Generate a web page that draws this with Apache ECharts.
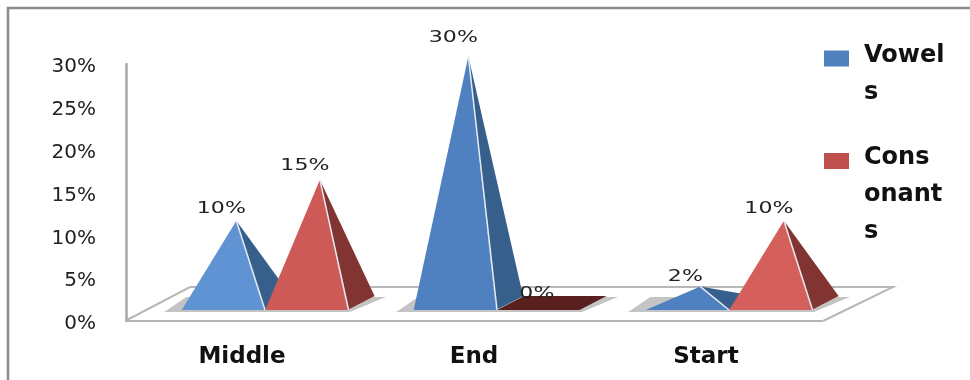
<!DOCTYPE html>
<html>
<head>
<meta charset="utf-8">
<style>html,body{margin:0;padding:0;background:#fff}#chart{width:970px;height:380px}</style>
<script src="https://cdn.jsdelivr.net/npm/echarts@6/dist/echarts.min.js"></script>
</head>
<body>
<div id="chart"></div>
<script>
const categories = ['Middle', 'End', 'Start'];
const vowels = [10, 30, 2];
const consonants = [15, 0, 10];
const legendVowels = 'Vowels';
const legendConsonants = 'Consonants';

const FONT = '"DejaVu Sans", sans-serif';
const FLOOR_LIFT = 11;      // front edge of the pyramids above the front of the floor
const APEX_LIFT = 18;       // where the apex of a zero-height pyramid would sit
const DEPTH_X = 27, DEPTH_Y = 14;
const PERSPECTIVE = 0.96;   // vertical foreshortening of the 3D view

const chart = echarts.init(document.getElementById('chart'));

// One pyramid: a front face and a darker right face, or a flat base at zero.
function pyramid(front, side, flat, offsetRatio) {
  return function (params, api) {
    const i = api.value(0), v = api.value(1);
    const zero = api.coord([i, 0]);
    const top = api.coord([i, v]);
    const band = api.size([1, 0])[0];
    const w = band * 0.355;
    const x0 = zero[0] + band * offsetRatio;
    const x1 = x0 + w;
    const y = zero[1] - FLOOR_LIFT;
    const apexX = (x0 + x1) / 2 + DEPTH_X / 2;
    const apexY = zero[1] - APEX_LIFT - (zero[1] - top[1]) * PERSPECTIVE;
    const children = [];
    if (v === 0) {
      children.push({
        type: 'polygon',
        shape: { points: [[x0, y], [x1, y], [x1 + DEPTH_X, y - DEPTH_Y], [x0 + DEPTH_X, y - DEPTH_Y]] },
        style: { fill: flat }
      });
    } else {
      children.push({
        type: 'polygon',
        shape: { points: [[x1, y], [x1 + DEPTH_X, y - DEPTH_Y], [apexX, apexY]] },
        style: { fill: side }
      });
      children.push({
        type: 'polygon',
        shape: { points: [[x0, y], [x1, y], [apexX, apexY]] },
        style: { fill: front[i] }
      });
      children.push({
        type: 'line',
        shape: { x1: x1 + 1, y1: y, x2: apexX, y2: apexY },
        style: { stroke: '#e6ebf2', lineWidth: 1.5 }
      });
    }
    // value label, widened to suit the stretched look of the plot
    children.push({
      type: 'text',
      x: apexX - 15,
      y: apexY - 9 - v * 0.33,
      scaleX: 1.38,
      style: {
        text: v + '%', x: 0, y: 0,
        align: 'center', verticalAlign: 'middle',
        fill: '#222', fontFamily: FONT, fontSize: 16
      }
    });
    return { type: 'group', children };
  };
}

// Soft grey footprint beneath each pair of pyramids.
function footprint(params, api) {
  const i = api.value(0);
  const zero = api.coord([i, 0]);
  const band = api.size([1, 0])[0];
  const l = zero[0] - band * 0.335, r = zero[0] + band * 0.465;
  const y = zero[1] - 9;
  return {
    type: 'polygon',
    shape: { points: [[l, y], [l + 22, y - 15], [r + 36, y - 15], [r, y]] },
    style: { fill: '#c4c4c4' }
  };
}

// Legend text: the wrapped words, with spacer rows that keep the swatch beside the first line.
const legendRich = (leadHeight) => ({
  g: { lineHeight: leadHeight, fontSize: 10 },
  e: { lineHeight: 6, fontSize: 4 },
  t: { color: '#111', fontFamily: FONT, fontWeight: 'bold', fontSize: 24, lineHeight: 37 }
});

chart.setOption({
  backgroundColor: '#fff',
  animation: false,
  grid: { left: 126, right: 148, top: 64, bottom: 59, containLabel: false },
  xAxis: {
    type: 'category',
    data: categories,
    axisTick: { show: false },
    axisLine: { lineStyle: { color: '#b4b4b4', width: 2 } },
    axisLabel: { color: '#111', fontFamily: FONT, fontWeight: 'bold', fontSize: 23, margin: 25 }
  },
  yAxis: {
    type: 'value',
    min: 0, max: 30, interval: 5,
    splitLine: { show: false },
    axisTick: { show: false },
    axisLine: { show: true, lineStyle: { color: '#a8a8a8', width: 2.5 } },
    axisLabel: { formatter: '{value}%', color: '#222', fontFamily: FONT, fontSize: 20, margin: 30, verticalAlign: 'top', lineHeight: 6 }
  },
  legend: [
    {
      left: 824, top: 13.5, orient: 'vertical', data: [legendVowels], icon: 'rect',
      itemWidth: 25, itemHeight: 16, itemGap: 0, selectedMode: false, padding: 0,
      formatter: () => '{g| }\n{t|Vowel}\n{t|s}\n{e| }',
      textStyle: { padding: [0, 0, 0, 10], rich: legendRich(37) }
    },
    {
      left: 824, top: 97.5, orient: 'vertical', data: [legendConsonants], icon: 'rect',
      itemWidth: 25, itemHeight: 16, itemGap: 0, selectedMode: false, padding: 0,
      formatter: () => '{g| }\n{t|Cons}\n{t|onant}\n{t|s}\n{e| }',
      textStyle: { padding: [0, 0, 0, 10], rich: legendRich(74) }
    }
  ],
  graphic: [
    // outer frame: left and top edges only
    { type: 'polyline', z: 0, shape: { points: [[8, 380], [8, 8], [970, 8]] }, style: { fill: 'none', stroke: '#8c8c8c', lineWidth: 2.5 } },
    // floor of the 3D plot
    { type: 'polyline', z: 0, shape: { points: [[127, 320], [190, 287], [893, 287], [823, 321]] }, style: { fill: 'none', stroke: '#b8b8b8', lineWidth: 2 } }
  ],
  series: [
    {
      name: 'floor', type: 'custom', z: 1, silent: true,
      encode: { x: 0, y: 1 },
      data: categories.map((c, i) => [c, 0]),
      renderItem: footprint
    },
    {
      name: legendVowels, type: 'custom', z: 2,
      itemStyle: { color: '#4F81BD' },
      encode: { x: 0, y: 1 },
      data: categories.map((c, i) => [c, vowels[i]]),
      renderItem: pyramid(['#5f93d3', '#4f81c0', '#4f81c0'], '#375f8c', '#375f8c', -0.26)
    },
    {
      name: legendConsonants, type: 'custom', z: 3,
      itemStyle: { color: '#C0504D' },
      encode: { x: 0, y: 1 },
      data: categories.map((c, i) => [c, consonants[i]]),
      renderItem: pyramid(['#cd5a56', '#cd5a56', '#d55f5a'], '#813432', '#5a2020', 0.1)
    }
  ]
});
</script>
</body>
</html>
